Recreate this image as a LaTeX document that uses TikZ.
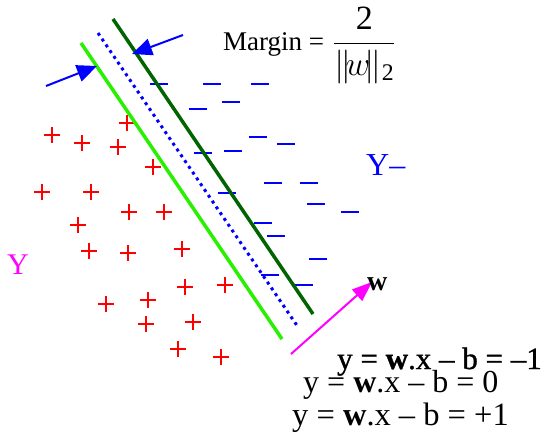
\documentclass[tikz,border=0pt]{standalone}
\usepackage{fix-cm}
\usepackage{amsmath}
\usepackage{fontspec}
\setmainfont{Liberation Serif}
\newfontfamily\heavyeq[FakeBold=1]{Liberation Serif}
\usetikzlibrary{arrows.meta}
\definecolor{wpink}{RGB}{255,0,255}
\definecolor{darkbound}{RGB}{0,100,0}
\definecolor{lightbound}{RGB}{40,240,0}

\begin{document}
\begin{tikzpicture}[x=1pt, y=-1pt,
    plus/.style={red, line width=1.5pt},
    minus/.style={blue, line width=2pt},
    bound/.style={line width=3.5pt},
    marr/.style={-{Triangle[length=20pt,width=17pt]}, blue, line width=2pt},
    warr/.style={-{Triangle[length=20pt,width=15pt]}, wpink, line width=2pt},
    lbl/.style={inner sep=0pt, anchor=base west}
  ]
  \useasboundingbox (0,0) rectangle (546,432);

  \foreach \px/\py in {127/123, 52/135, 82/143, 118/147, 153/167, 42/192, 91/192,
      129/212, 164/212, 78/225, 89/251, 128/253, 182/249, 185/287, 225/285,
      106/304, 148/300, 146/324, 193/322, 178/349, 221/357} {
    \draw[plus] (\px-8,\py) -- (\px+8,\py) (\px,\py-8) -- (\px,\py+8);
  }
  \foreach \px/\py in {159/84, 212/84, 260/84, 231/102, 198/109, 258/137, 286/144,
      203/153, 233/151, 273/183, 309/183, 227/193, 316/204, 350/212, 263/223,
      276/236, 318/259, 270/275, 304/285} {
    \draw[minus] (\px-9,\py) -- (\px+9,\py);
  }

  \coordinate (p1) at (81,43);
  \coordinate (p2) at (282,339);
  \coordinate (c1) at (98,33);
  \coordinate (c2) at (298,327);
  \coordinate (m1) at (113,19);
  \coordinate (m2) at (313,314);
  \draw[bound, lightbound] (p1) -- (p2);
  \draw[blue, line width=3pt, dash pattern=on 3pt off 4pt] (c1) -- (c2);
  \draw[bound, darkbound] (m1) -- (m2);

  \coordinate (la) at (46,86);
  \coordinate (lt) at (97,66);
  \coordinate (ra) at (183,35);
  \coordinate (rt) at (132,54);
  \draw[marr] (la) -- (lt);
  \draw[marr] (ra) -- (rt);

  \coordinate (w0) at (291,354);
  \coordinate (w1) at (372,282);
  \draw[warr] (w0) -- (w1);

  \node[lbl, font=\fontsize{27}{31}\selectfont] (margin) at (223,50) {Margin =};
  \node[lbl, font=\fontsize{34}{38}\selectfont] (frac) at (333,52)
    {$\dfrac{\text{2}}{\|\!w\!\|_{\text{2}}}$};
  \node[lbl, blue, font=\fontsize{32}{36}\selectfont] (yneg) at (366,175) {Y–};
  \node[lbl, wpink, font=\fontsize{30}{34}\selectfont] (ypos) at (7,274) {Y};
  \node[lbl, font=\fontsize{28}{32}\selectfont\bfseries] (wlab) at (367,290) {w};
  \node[lbl, font=\fontsize{31}{35}\selectfont\heavyeq] (eq1) at (337,369) {y = \textbf{w}.x – b = –1};
  \node[lbl, font=\fontsize{32}{36}\selectfont] (eq2) at (303,392) {y = \textbf{w}.x – b = 0};
  \node[lbl, font=\fontsize{32.5}{36}\selectfont] (eq3) at (292,425) {y = \textbf{w}.x – b = +1};
\end{tikzpicture}
\end{document}
